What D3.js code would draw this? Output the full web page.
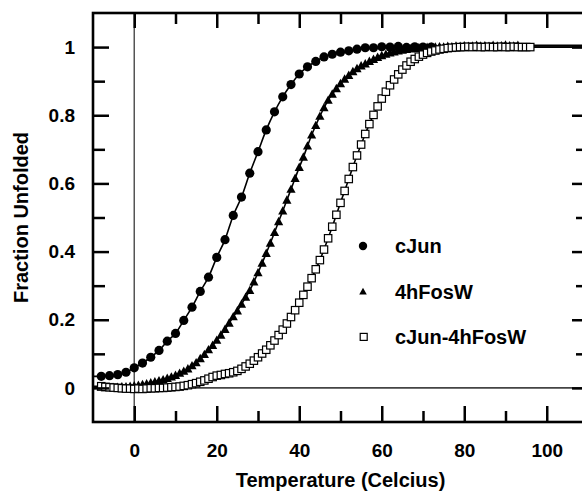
<!DOCTYPE html>
<html>
<head>
<meta charset="utf-8">
<script src="https://cdnjs.cloudflare.com/ajax/libs/d3/7.8.5/d3.min.js"></script>
<style>
  body { margin: 0; background: #fff; }
  svg { display: block; }
</style>
</head>
<body>
<script>
// thermal melts, fraction unfolded vs temperature
// cJun was measured every 2 degrees, the other two every degree

const cJunTemp = [-8,-6,-4,-2,0,2,4,6,8,10,12,14,16,18,20,22,24,26,28,30,
  32,34,36,38,40,42,44,46,48,50,52,54,56,58,60,62,64,66,68,70,72];
const cJunFrac = [0.034,0.036,0.039,0.046,0.059,0.073,0.090,0.110,0.137,0.160,
  0.198,0.237,0.283,0.325,0.383,0.435,0.506,0.560,0.630,0.693,
  0.757,0.810,0.854,0.890,0.921,0.942,0.958,0.971,0.979,0.985,
  0.989,0.994,0.998,0.998,1.001,1.000,1.002,0.999,1.001,1.000,1.000];

const fosTemp = [-8,-7,-6,-5,-4,-3,-2,-1,0,1,
  2,3,4,5,6,7,8,9,10,11,
  12,13,14,15,16,17,18,19,20,21,
  22,23,24,25,26,27,28,29,30,31,
  32,33,34,35,36,37,38,39,40,41,
  42,43,44,45,46,47,48,49,50,51,
  52,53,54,55,56,57,58,59,60,61,
  62,63,64,65,66,67,68,69,70,71,
  72,73,74,75,76,77,78,79,80,81,
  82,83,84,85,86,87,88,89,90,91,
  92,93];
const fosFrac = [0.002,0.001,0.002,0.001,0.002,0.003,0.003,0.005,0.006,0.008,
  0.010,0.012,0.015,0.018,0.021,0.024,0.028,0.032,0.037,0.043,
  0.049,0.056,0.065,0.074,0.086,0.098,0.112,0.125,0.140,0.155,
  0.172,0.190,0.209,0.226,0.246,0.266,0.286,0.311,0.338,0.366,
  0.395,0.425,0.456,0.488,0.519,0.551,0.583,0.615,0.647,0.677,
  0.710,0.742,0.770,0.797,0.822,0.844,0.862,0.878,0.893,0.906,
  0.917,0.928,0.937,0.945,0.951,0.958,0.964,0.970,0.975,0.979,
  0.983,0.986,0.989,0.991,0.993,0.995,0.996,0.998,0.998,0.999,
  1.000,1.000,1.001,1.000,1.002,1.001,1.003,1.002,1.004,1.002,
  1.003,1.005,1.003,1.004,1.002,1.005,1.003,1.004,1.006,1.004,
  1.003,1.005];

const mixTemp = [-8,-7,-6,-5,-4,-3,-2,-1,0,1,
  2,3,4,5,6,7,8,9,10,11,
  12,13,14,15,16,17,18,19,20,21,
  22,23,24,25,26,27,28,29,30,31,
  32,33,34,35,36,37,38,39,40,41,
  42,43,44,45,46,47,48,49,50,51,
  52,53,54,55,56,57,58,59,60,61,
  62,63,64,65,66,67,68,69,70,71,
  72,73,74,75,76,77,78,79,80,81,
  82,83,84,85,86,87,88,89,90,91,
  92,93,94,95,96];
const mixFrac = [0.005,0.003,0.002,0.001,0.000,-0.001,-0.002,-0.002,-0.003,-0.002,
  -0.003,-0.002,-0.001,-0.001,0.000,0.000,0.001,0.002,0.003,0.004,
  0.006,0.008,0.011,0.014,0.018,0.022,0.027,0.032,0.036,0.038,
  0.041,0.043,0.046,0.050,0.056,0.063,0.071,0.080,0.090,0.101,
  0.112,0.125,0.139,0.155,0.171,0.189,0.208,0.228,0.250,0.273,
  0.297,0.322,0.348,0.375,0.406,0.439,0.473,0.508,0.543,0.578,
  0.613,0.648,0.682,0.714,0.745,0.774,0.801,0.826,0.849,0.869,
  0.888,0.905,0.920,0.934,0.946,0.957,0.965,0.972,0.978,0.983,
  0.987,0.990,0.993,0.995,0.997,0.998,0.999,1.000,1.000,1.001,
  1.000,1.001,1.000,1.000,1.001,1.000,1.000,1.001,1.000,1.000,
  1.001,1.000,1.000,1.000,1.000];

const seriesNames = ["cJun", "4hFosW", "cJun-4hFosW"];

const xMajorTicks = [0, 20, 40, 60, 80, 100];
const xMinorTicks = [10, 30, 50, 70, 90];
const xTickLabels = ["0", "20", "40", "60", "80", "100"];
const yMajorTicks = [0, 0.2, 0.4, 0.6, 0.8, 1];
const yMinorTicks = [0.1, 0.3, 0.5, 0.7, 0.9];
const yTickLabels = ["0", "0.2", "0.4", "0.6", "0.8", "1"];

const FONT = '"Liberation Sans", Arial, Helvetica, sans-serif';

let margin = null,
    width = null,
    height = null;

let svg = null, root = null;
let x, y = null; // scales

setupCanvasSize();
appendSvg("body");
setupScales();
appendReferenceLines();
appendFitLines();
appendMarkers();
appendFrameAndTicks();
appendLegend();
appendAxisTitles();

function setupCanvasSize() {
  // right side of the frame sits a few px past the picture edge, like the original
  margin = {top: 13, left: 93, bottom: 69, right: -6};
  width = 582 - margin.left - margin.right;
  height = 491 - margin.top - margin.bottom;
}

function appendSvg(domElement) {
  root = d3.select(domElement).append("svg")
    .attr("width", 582)
    .attr("height", 491);
  svg = root.append("g")
    .attr("transform", `translate(${margin.left}, ${margin.top})`);
}

function setupScales() {
  x = d3.scaleLinear().domain([-10, 110]).range([0, width]);
  y = d3.scaleLinear().domain([-0.1, 1.1]).range([height, 0]);
}

function toPoints(temps, fracs) {
  return temps.map((t, i) => ({t: t, f: fracs[i]}));
}

function appendReferenceLines() {
  svg.append("line")
    .attr("x1", x(0)).attr("x2", x(0))
    .attr("y1", 0).attr("y2", height)
    .attr("stroke", "#555").attr("stroke-width", 1.5);
  svg.append("line")
    .attr("x1", 0).attr("x2", width)
    .attr("y1", y(0)).attr("y2", y(0))
    .attr("stroke", "#444").attr("stroke-width", 1.6);
}

function appendFitLines() {
  const line = d3.line()
    .x(d => x(d.t))
    .y(d => y(d.f))
    .curve(d3.curveMonotoneX);

  [[cJunTemp, cJunFrac], [fosTemp, fosFrac], [mixTemp, mixFrac]].forEach(s => {
    const pts = toPoints(s[0], s[1]);
    // the fits run across the whole temperature window
    const ext = [{t: x.domain()[0], f: pts[0].f}]
      .concat(pts, [{t: x.domain()[1], f: pts[pts.length - 1].f}]);
    svg.append("path")
      .datum(ext)
      .attr("d", line)
      .attr("fill", "none")
      .attr("stroke", "#000")
      .attr("stroke-width", 1.6);
  });
}

function trianglePath(half, up, down) {
  return `M0,${-up}L${half},${down}L${-half},${down}Z`;
}

function appendMarkers() {
  svg.append("g").selectAll("circle")
    .data(toPoints(cJunTemp, cJunFrac))
    .enter().append("circle")
    .attr("cx", d => x(d.t))
    .attr("cy", d => y(d.f))
    .attr("r", 4.6)
    .attr("fill", "#000");

  svg.append("g").selectAll("path")
    .data(toPoints(fosTemp, fosFrac))
    .enter().append("path")
    .attr("transform", d => `translate(${x(d.t)}, ${y(d.f)})`)
    .attr("d", trianglePath(4.6, 4.8, 3.6))
    .attr("fill", "#000");

  svg.append("g").selectAll("rect")
    .data(toPoints(mixTemp, mixFrac))
    .enter().append("rect")
    .attr("x", d => x(d.t) - 3.7)
    .attr("y", d => y(d.f) - 3.7)
    .attr("width", 7.4)
    .attr("height", 7.4)
    .attr("fill", "#fff")
    .attr("stroke", "#000")
    .attr("stroke-width", 1.2);
}

function drawTicks(axis, values, size, transform, labels, pad) {
  const g = svg.append("g")
    .attr("transform", transform)
    .call(axis.tickValues(values)
      .tickSizeInner(size)
      .tickSizeOuter(0)
      .tickPadding(pad || 0)
      .tickFormat(labels ? (d, i) => labels[i] : () => ""));
  g.attr("font-family", FONT).attr("font-size", 19).attr("font-weight", "bold");
  g.select(".domain").remove();
  g.selectAll("line").attr("stroke", "#000").attr("stroke-width", 2.5);
  g.selectAll("text").attr("fill", "#000");
  return g;
}

function appendFrameAndTicks() {
  // bottom + top
  drawTicks(d3.axisBottom(x), xMajorTicks, -16, `translate(0, ${height})`, xTickLabels, 21.5);
  drawTicks(d3.axisBottom(x), xMinorTicks, -11, `translate(0, ${height})`);
  drawTicks(d3.axisTop(x), xMajorTicks, -15, "translate(0, 0)");
  drawTicks(d3.axisTop(x), xMinorTicks, -11, "translate(0, 0)");

  // left + right
  drawTicks(d3.axisLeft(y), yMajorTicks, -16, "translate(0, 0)", yTickLabels, 18);
  drawTicks(d3.axisLeft(y), yMinorTicks, -12, "translate(0, 0)");
  drawTicks(d3.axisRight(y), yMajorTicks, -16, `translate(${width}, 0)`);
  drawTicks(d3.axisRight(y), yMinorTicks, -12, `translate(${width}, 0)`);

  svg.append("rect")
    .attr("x", 0).attr("y", 0)
    .attr("width", width).attr("height", height)
    .attr("fill", "none")
    .attr("stroke", "#000")
    .attr("stroke-width", 2.6);
}

function appendLegend() {
  const leg = root.append("g").attr("transform", "translate(363, 246)");
  const rowGap = 45.5;

  const rows = leg.selectAll("g")
    .data(seriesNames)
    .enter().append("g")
    .attr("transform", (d, i) => `translate(0, ${i * rowGap})`);

  rows.filter((d, i) => i === 0).append("circle")
    .attr("r", 4.2).attr("fill", "#000");
  rows.filter((d, i) => i === 1).append("path")
    .attr("d", trianglePath(3.8, 3.8, 3)).attr("fill", "#000");
  rows.filter((d, i) => i === 2).append("rect")
    .attr("x", -2.8).attr("y", -3.6).attr("width", 7).attr("height", 7)
    .attr("fill", "#fff").attr("stroke", "#000").attr("stroke-width", 1.2);

  rows.append("text")
    .attr("x", 32)
    .attr("dy", "0.36em")
    .attr("font-family", FONT)
    .attr("font-size", 20)
    .attr("font-weight", "bold")
    .text(d => d);
}

function appendAxisTitles() {
  root.append("text")
    .attr("x", margin.left + (width) / 2)
    .attr("y", 487)
    .attr("text-anchor", "middle")
    .attr("font-family", FONT)
    .attr("font-size", 20)
    .attr("font-weight", "bold")
    .text("Temperature (Celcius)");

  root.append("text")
    .attr("transform", `translate(27.5, ${margin.top + height / 2}) rotate(-90)`)
    .attr("text-anchor", "middle")
    .attr("font-family", FONT)
    .attr("font-size", 20)
    .attr("font-weight", "bold")
    .text("Fraction Unfolded");
}
</script>
</body>
</html>
